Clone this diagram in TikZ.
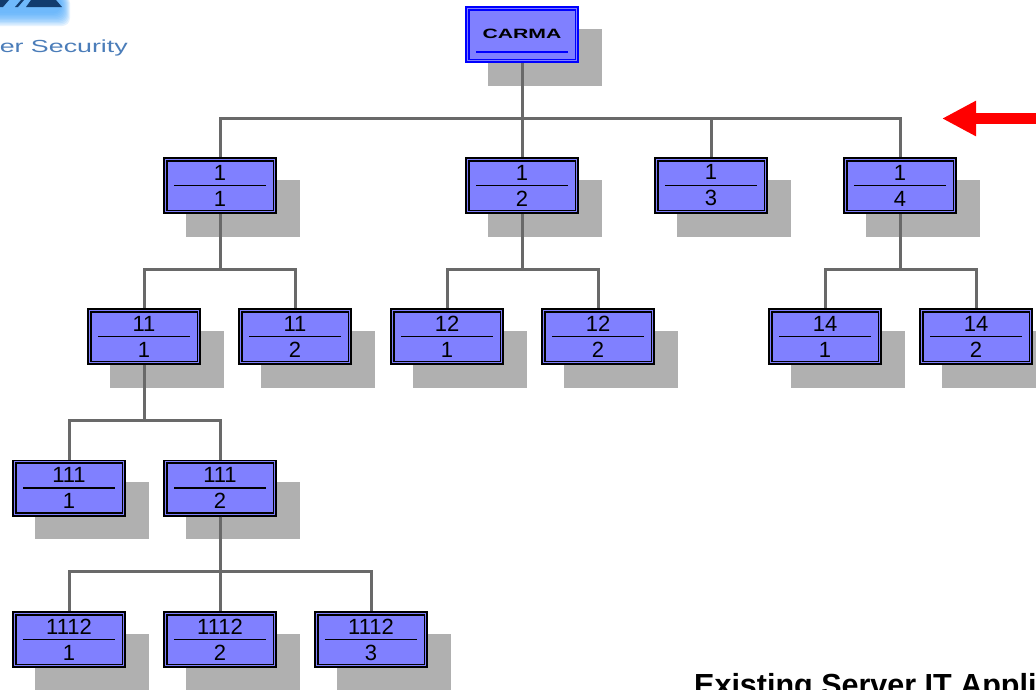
\documentclass[tikz,border=0pt]{standalone}
\usepackage{fontspec}
\setmainfont{Liberation Sans}
\usetikzlibrary{arrows.meta,shadows}
\definecolor{boxfill}{RGB}{128,128,255}
\definecolor{shadowgrey}{RGB}{176,176,176}
\definecolor{linkgrey}{RGB}{105,105,105}
\definecolor{logonavy}{RGB}{18,60,110}
\definecolor{logoglow}{RGB}{70,165,250}
\definecolor{logotext}{RGB}{75,125,185}
\tikzset{
    unit/.style={draw=#1, line width=1.8pt,
        fill=boxfill, inner sep=0pt, minimum width=112.2pt, minimum height=55.2pt,
        align=center, font=\fontsize{22}{26}\selectfont,
        drop shadow={shadow xshift=22.5pt, shadow yshift=-22.5pt, draw=shadowgrey, line width=1.8pt, fill=shadowgrey, opacity=1},
        path picture={\draw [#1, line width=1.8pt]
            ([xshift=2.7pt,yshift=2.7pt]path picture bounding box.south west) rectangle
            ([xshift=-2.7pt,yshift=-2.7pt]path picture bounding box.north east);
            \draw [#1, line width=1.9pt] (path picture bounding box.center) ++(-46,\rulepos) -- ++(92,0);}},
    unit/.default=black,
    link/.style={draw=linkgrey, line width=3pt},
    bus/.style={to path={(\tikztostart.south) -- ++(0,55.1) -| (\tikztotarget.north)}}
}
\newcommand{\rulepos}{0}
\begin{document}
\begin{tikzpicture}[x=1pt, y=-1pt]
    \useasboundingbox (0,0) rectangle (1036,689);

    % logo
    \foreach \r in {0,...,9}
        \fill [logoglow, opacity=0.14, rounded corners=8pt] (-12,-5) rectangle (70-\r,26-1.4*\r);
    \fill [logonavy] (0,0) -- (9,0) -- (3,7) -- (0,7) -- cycle;
    \fill [logonavy] (15,7) -- (21,0) -- (24,0) -- (18,7) -- cycle;
    \fill [logonavy] (26,7) -- (31,0) -- (56,0) -- (62,7) -- cycle;
    \node [text=logotext, inner sep=0pt, anchor=base east, font=\fontsize{19}{19}\selectfont] (security) at (128,52) {\scalebox{1.41}[0.92]{er Security}};

    \begingroup
    \renewcommand{\rulepos}{17.5}
    \node [unit=blue] (root) at (522,34.5) {\raisebox{2pt}{\fontsize{13.5}{13.5}\selectfont\bfseries\scalebox{1.57}[1]{CARMA}}};
    \endgroup

    \node [unit] (n1) at (220,185.5) {1\\1};
    \node [unit] (n2) at (522,185.5) {1\\2};
    \node [unit] (n3) at (711,185.5) {1\\3};
    \node [unit] (n4) at (900,185.5) {1\\4};

    \node [unit] (n11) at (144,336.5) {11\\1};
    \node [unit] (n12) at (295,336.5) {11\\2};
    \node [unit] (n21) at (447,336.5) {12\\1};
    \node [unit] (n22) at (598,336.5) {12\\2};
    \node [unit] (n41) at (825,336.5) {14\\1};
    \node [unit] (n42) at (976,336.5) {14\\2};

    \node [unit] (n111) at (69,488) {111\\1};
    \node [unit] (n112) at (220,488) {111\\2};

    \node [unit] (n1121) at (69,639.5) {1112\\1};
    \node [unit] (n1122) at (220,639.5) {1112\\2};
    \node [unit] (n1123) at (371,639.5) {1112\\3};

    \foreach \parent/\child in {root/n1, root/n2, root/n3, root/n4,
            n1/n11, n1/n12, n2/n21, n2/n22, n4/n41, n4/n42,
            n11/n111, n11/n112, n112/n1121, n112/n1122, n112/n1123}
        \draw [link] (\parent) to [bus] (\child);

    % red arrow
    \coordinate (arrowstart) at (1040,118.5);
    \coordinate (arrowtip) at (942,118.5);
    \draw [-{Triangle[length=34pt,width=33pt]}, red, line width=10.5pt] (arrowstart) -- (arrowtip);

    \node [inner sep=0pt, anchor=base west, font=\fontsize{30.5}{30.5}\selectfont\bfseries] (title) at (694,695) {Existing Server IT Appli};
\end{tikzpicture}
\end{document}
